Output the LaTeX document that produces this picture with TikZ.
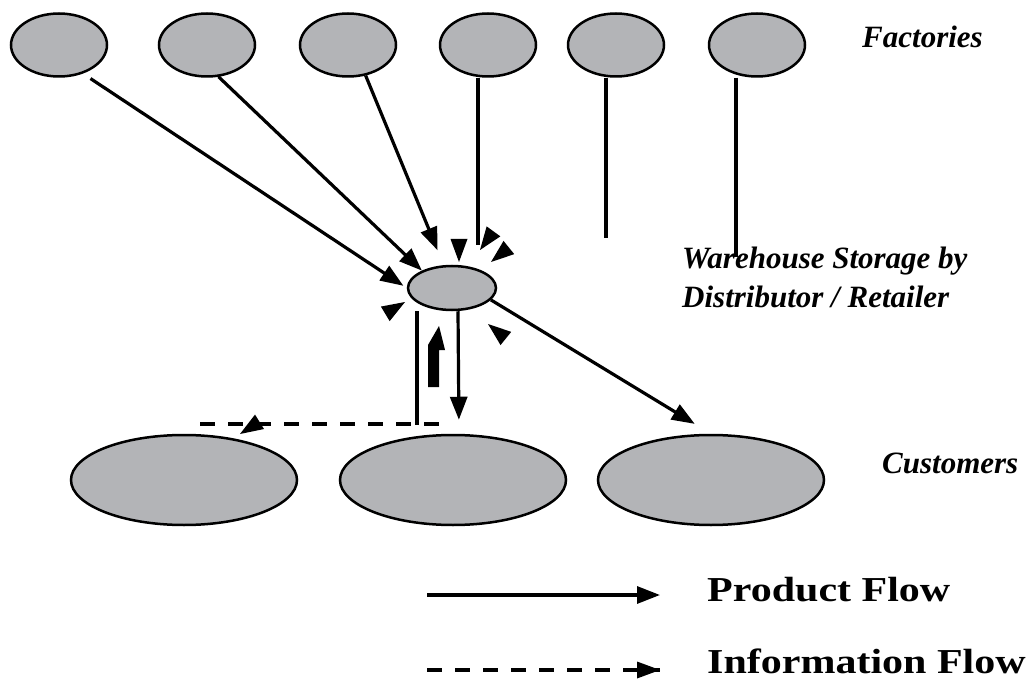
\documentclass[tikz,border=0pt]{standalone}
\usepackage{fontspec}
\setmainfont{Liberation Serif}
\usetikzlibrary{shapes.geometric,arrows.meta}
\definecolor{ovalgray}{RGB}{179,180,183}
\newcommand{\headat}[2]{\fill[shift={#1},rotate=#2] (0,0) -- (-23,8.5) -- (-23,-8.5) -- cycle;}

\begin{document}
\begin{tikzpicture}
                [x=1pt, y=-1pt,
                    oval/.style={ellipse, draw, fill=ovalgray, line width=2.5pt, inner sep=0},
                    factory/.style={oval, minimum width=96pt, minimum height=63pt},
                    customer/.style={oval, minimum width=226pt, minimum height=90pt},
                    prod/.style={line width=3.2pt, -{Triangle[length=23pt,width=17pt]}},
                    info/.style={line width=4pt, dash pattern=on 15pt off 13pt},
                ]
                \tikzstyle{lbl}=[font=\bfseries\itshape\fontsize{31}{39}\selectfont, anchor=base west, inner sep=0, align=left]
                \tikzstyle{legend}=[font=\bfseries\fontsize{35}{40}\selectfont, anchor=base west, inner sep=0, xscale=1.2, transform shape]
                \useasboundingbox (0,0) rectangle (1031,679);
                % factories
                \foreach \n/\x in {1/59, 2/207, 3/348, 4/488, 5/616, 6/757}
                    \node[factory] (f\n) at (\x,45) {};
                \node[oval, minimum width=88pt, minimum height=44pt] (w) at (452,288) {};
                \node[customer] (c1) at (184,480) {};
                \node[customer] (c2) at (453,480) {};
                \node[customer] (c3) at (711,480) {};
                \node[lbl] (tf) at (862,48) {Factories};
                \node[lbl] (tw) at (682,307) {Warehouse Storage by\\Distributor / Retailer};
                \node[lbl] (tc) at (882,473) {Customers};
                % free ends
                \coordinate (e4) at (478,245);
                \coordinate (e5) at (606,238);
                \coordinate (e6) at (736,257);
                \coordinate (d1) at (417,425);
                \coordinate (d2) at (200,424);
                \coordinate (d3) at (440,424);
                % product flow
                \draw[prod, shorten <=9pt, shorten >=4pt] (f1.-50) -- (w.180);
                \draw[prod] (f2.-70) -- (w.150);
                \draw[prod, shorten >=16pt] (f3.-60) -- (w.110);
                \draw[line width=3.2pt] (f4.south -| e4) -- (e4);
                \draw[line width=3.2pt] (f5.south -| e5) -- (e5);
                \draw[line width=3.2pt] (f6.south -| e6) -- (e6);
                \draw[prod, shorten >=14pt] ([xshift=6pt]w.south) -- ([xshift=6pt]c2.north);
                \draw[prod, shorten >=19pt] (w.-17) -- (c3.north);
                % information flow
                \draw[line width=3.2pt] (w.south -| d1) -- (d1);
                \draw[info] (d2) -- (d3);
                \fill (428,387) -- (428,345) -- (439,326) -- (445,350) -- (439,350) -- (439,387) -- cycle;
                \headat{(459,262)}{-90}
                \headat{(480,250)}{-126}
                \headat{(491,262)}{-141}
                \headat{(405,302)}{31}
                \headat{(488,324)}{141}
                \headat{(240,434)}{-148}
                % legend
                \coordinate (l1) at (427,595);
                \coordinate (l2) at (660,595);
                \coordinate (l3) at (427,670);
                \coordinate (l4) at (660,670);
                \draw[prod] (l1) -- (l2);
                \draw[info] (l3) -- (l4);
                \fill (l4) -- ++(-23,-8.5) -- ++(0,17) -- cycle;
                \node[legend] (tp) at (707,601) {Product Flow};
                \node[legend] (ti) at (707,673) {Information Flow};
            \end{tikzpicture}
\end{document}
